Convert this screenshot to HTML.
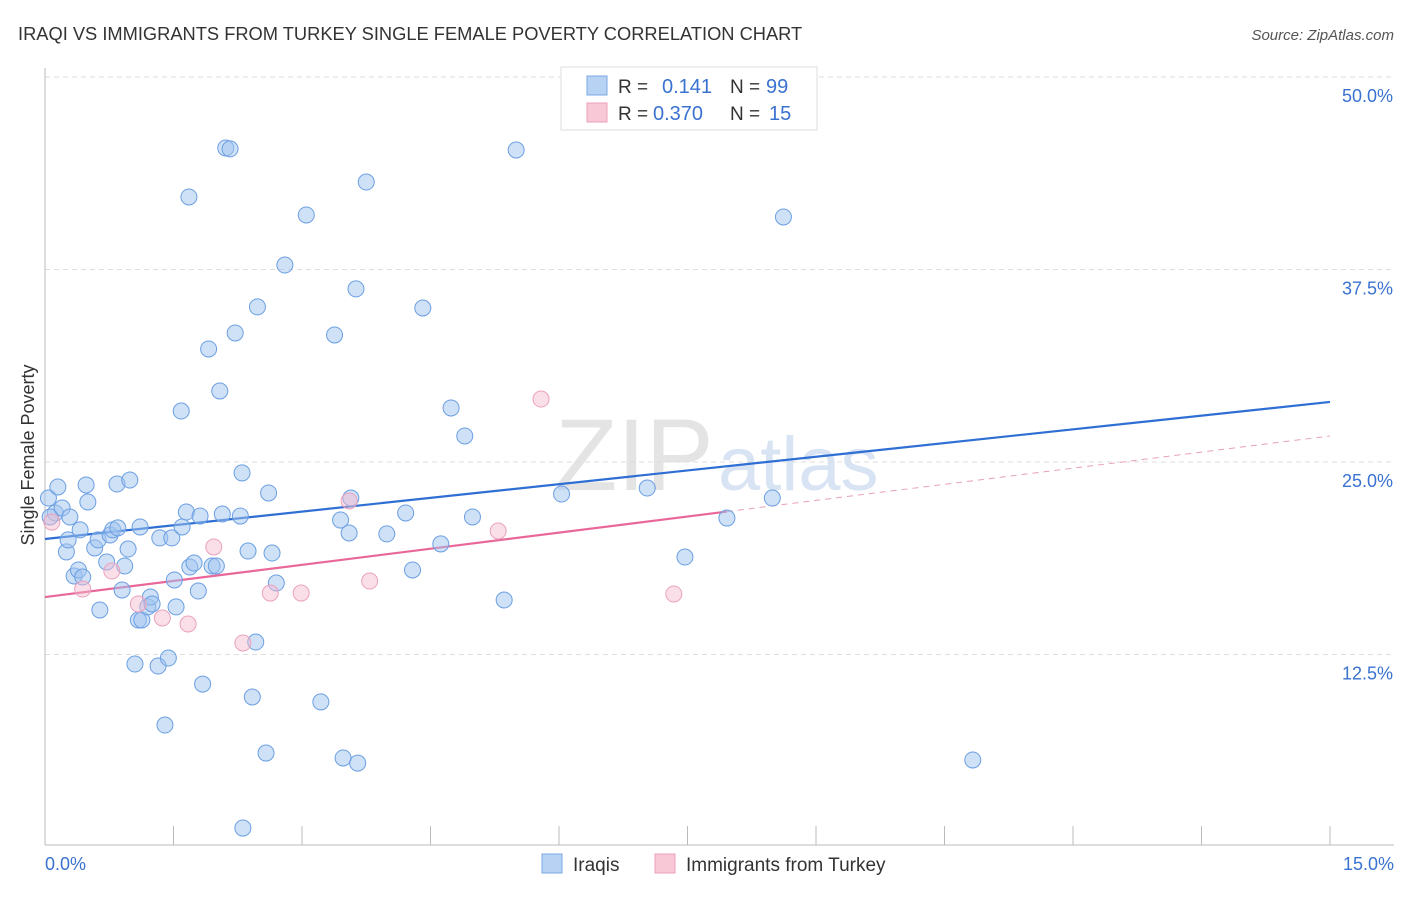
<!DOCTYPE html>
<html><head><meta charset="utf-8">
<style>
body{margin:0;background:#fff;font-family:"Liberation Sans",sans-serif;}
svg text{font-family:"Liberation Sans",sans-serif;}
</style></head>
<body>
<svg id="chart" width="1406" height="892" xmlns="http://www.w3.org/2000/svg">
<text x="18" y="40" font-size="18.3" fill="#333">IRAQI VS IMMIGRANTS FROM TURKEY SINGLE FEMALE POVERTY CORRELATION CHART</text>
<text x="1394" y="40" font-size="15" fill="#555" font-style="italic" text-anchor="end">Source: ZipAtlas.com</text>
<text x="555" y="490" font-size="102" fill="#e4e4e4" font-family="Liberation Serif">ZIP</text>
<text x="718" y="490" font-size="76" fill="#d8e4f4">atlas</text>
<text transform="translate(34,455) rotate(-90)" font-size="18" fill="#333" text-anchor="middle">Single Female Poverty</text>
<g id="grid"></g><g id="axes"></g><g id="trends"></g><g id="pts"></g>
<g>
<rect x="561" y="67" width="256" height="63" fill="#fff" stroke="#ddd"/>
<rect x="587" y="76" width="20" height="19" fill="#b8d2f4" stroke="#7aa8e4"/>
<rect x="587" y="103" width="20" height="19" fill="#f9c8d6" stroke="#eca0b8"/>
<text x="618" y="93" font-size="19" fill="#333">R =</text>
<text x="662" y="93" font-size="20" fill="#3a72d0">0.141</text>
<text x="730" y="93" font-size="19" fill="#333">N =</text>
<text x="766" y="93" font-size="20" fill="#3a72d0">99</text>
<text x="618" y="120" font-size="19" fill="#333">R =</text>
<text x="653" y="120" font-size="20" fill="#3a72d0">0.370</text>
<text x="730" y="120" font-size="19" fill="#333">N =</text>
<text x="769" y="120" font-size="20" fill="#3a72d0">15</text>
</g>
<g>
<rect x="542" y="854" width="20" height="19" fill="#b8d2f4" stroke="#7aa8e4"/>
<text x="573" y="871" font-size="19" fill="#333">Iraqis</text>
<rect x="655" y="854" width="20" height="19" fill="#f9c8d6" stroke="#eca0b8"/>
<text x="686" y="871" font-size="19" fill="#333">Immigrants from Turkey</text>
</g>
</svg>
<script>
const yTicks=[12.5,25,37.5,50];
const yTickLabels=["12.5%","25.0%","37.5%","50.0%"];
const xEndLabels=["0.0%","15.0%"];
const blueX=[.04,.12,.06,.15,.20,.29,.25,.27,.41,.50,.48,.34,.39,.44,.58,.62,.64,.72,.76,.79,.85,.84,.99,.90,.93,.97,1.09,1.13,1.11,1.20,1.23,1.25,1.05,1.32,1.44,1.40,1.34,1.48,1.53,1.51,1.60,1.65,1.69,1.74,1.79,1.81,1.84,1.59,1.68,1.91,1.95,2.00,2.04,2.07,2.11,2.16,2.22,2.28,2.30,2.31,2.37,2.42,2.46,2.48,2.58,2.61,2.65,2.70,2.80,3.05,3.22,3.38,3.45,3.48,3.55,3.57,3.63,3.65,3.75,3.99,4.21,4.29,4.41,4.62,4.74,4.90,4.99,5.36,5.50,6.03,7.03,7.47,7.96,8.49,8.62,10.83];
const blueY=[22.66,21.69,21.43,23.38,22.01,21.43,19.16,19.94,20.59,22.40,23.51,17.60,17.99,17.53,19.42,19.94,15.39,18.51,20.26,20.59,20.72,23.57,23.83,16.69,18.25,19.35,14.74,14.74,20.78,15.59,16.23,15.78,11.88,11.75,12.27,7.92,20.07,20.07,15.59,17.34,20.78,21.75,18.18,18.44,16.62,21.49,10.58,28.31,42.21,32.34,18.25,18.25,29.61,21.62,45.39,45.33,33.38,21.49,24.29,1.23,19.22,9.74,13.31,35.07,6.10,22.99,19.09,17.14,37.79,41.04,9.42,33.25,21.23,5.78,20.39,22.66,36.24,5.45,43.18,20.33,21.69,17.99,35.00,19.68,28.51,26.69,21.43,16.04,45.26,22.92,23.31,18.83,21.36,22.66,40.91,5.65];
const pinkX=[.08,.44,.78,1.09,1.37,1.67,1.97,2.31,2.63,2.99,3.55,3.79,5.29,5.79,7.34];
const pinkY=[21.10,16.75,17.92,15.78,14.87,14.48,19.48,13.25,16.49,16.49,22.47,17.27,20.52,29.09,16.43];
const blueTrend=[20.0,28.9];
const pinkTrend=[16.23,26.69];
const pinkSolidEnd=7.96;
const NS="http://www.w3.org/2000/svg";
const X=v=>45+v/15*1285;
const Y=v=>847-v/12.5*192.5;
function mk(tag,attrs,parent){const e=document.createElementNS(NS,tag);for(const k in attrs)e.setAttribute(k,attrs[k]);document.getElementById(parent).appendChild(e);return e;}
yTicks.forEach((t,i)=>{
 const g=mk('line',{x1:45,x2:1394,y1:Y(t),y2:Y(t),stroke:'#ddd','stroke-dasharray':'5,4'},'grid');
 
 
 const l=mk('text',{x:1393,y:Y(t)+25,'font-size':18,fill:'#3a72d0','text-anchor':'end'},'axes');
 l.textContent=yTickLabels[i];
 
 
});
const xa=mk('line',{x1:45,x2:1394,y1:845,y2:845,stroke:'#bbb'},'axes');


const ya=mk('line',{x1:45,x2:45,y1:68,y2:845,stroke:'#bbb'},'axes');


for(let i=1;i<=10;i++){const t=mk('line',{x1:X(i*1.5),x2:X(i*1.5),y1:826,y2:845,stroke:'#bbb'},'axes');
 
 }
[[0,45,'start'],[15,1394,'end']].forEach((d,i)=>{const t=mk('text',{x:d[1],y:870,'font-size':18,fill:'#3a72d0','text-anchor':d[2]},'axes');t.textContent=xEndLabels[i];
 
 });
const tb=mk('line',{x1:X(0),y1:Y(blueTrend[0]),x2:X(15),y2:Y(blueTrend[1]),stroke:'#2f6fd4','stroke-width':2.2},'trends');


const pm=pinkTrend[0]+(pinkTrend[1]-pinkTrend[0])*pinkSolidEnd/15;
const tp=mk('line',{x1:X(0),y1:Y(pinkTrend[0]),x2:X(pinkSolidEnd),y2:Y(pm),stroke:'#e8689a','stroke-width':2.2},'trends');


const td=mk('line',{x1:X(pinkSolidEnd),y1:Y(pm),x2:X(15),y2:Y(pinkTrend[1]),stroke:'#e8a0b8','stroke-width':1,'stroke-dasharray':'6,5'},'trends');


blueX.forEach((x,i)=>{const c=mk('circle',{cx:X(x),cy:Y(blueY[i]),r:8,fill:'rgba(160,196,240,0.5)',stroke:'#6b9fe2','stroke-width':1},'pts');
 
 });
pinkX.forEach((x,i)=>{const c=mk('circle',{cx:X(x),cy:Y(pinkY[i]),r:8,fill:'rgba(246,184,204,0.45)',stroke:'#eaa2bc','stroke-width':1},'pts');
 
 });
</script>
</body></html>
